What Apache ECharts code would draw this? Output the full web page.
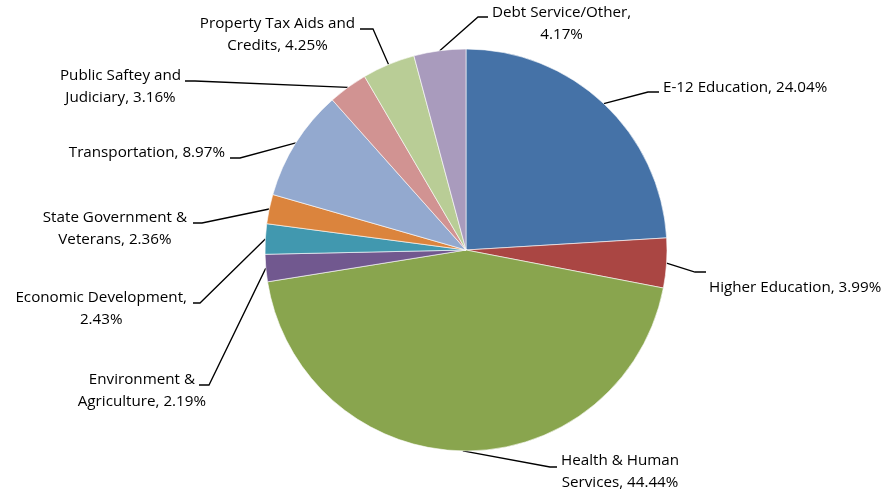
<!DOCTYPE html>
<html>
<head>
<meta charset="utf-8">
<script src="https://cdn.jsdelivr.net/npm/echarts@6/dist/echarts.min.js"></script>
<style>
html,body{margin:0;padding:0;background:#fff;}
#chart{width:886px;height:493px;}
</style>
</head>
<body>
<div id="chart"></div>
<script>
// ---- data ----
const categories = [
  "E-12 Education",
  "Higher Education",
  "Health & Human Services",
  "Environment & Agriculture",
  "Economic Development",
  "State Government & Veterans",
  "Transportation",
  "Public Saftey and Judiciary",
  "Property Tax Aids and Credits",
  "Debt Service/Other"
];
const values = [24.04, 3.99, 44.44, 2.19, 2.43, 2.36, 8.97, 3.16, 4.25, 4.17];
const labelNames = [
  "E-12 Education,",
  "Higher Education,",
  "Health & Human\nServices,",
  "Environment &\nAgriculture,",
  "Economic Development,\n",
  "State Government &\nVeterans,",
  "Transportation,",
  "Public Saftey and\nJudiciary,",
  "Property Tax Aids and\nCredits,",
  "Debt Service/Other,\n"
];
const colors = ["#4572A7","#AA4643","#89A54E","#71588F","#4198AF","#DB843D","#93A9CF","#D19392","#B9CD96","#A99BBD"];

// ---- label layout (pixel placement of labels / leader lines) ----
const labelPlacement = [
  {side:"R", ex:663, cy:88,  elbow:[648,92],  end:[659,92]},
  {side:"R", ex:709, cy:288, elbow:[695,272], end:[706,272]},
  {side:"R", ex:561, cy:472, elbow:[550,467], end:[557,467]},
  {side:"L", ex:206, cy:391, elbow:[209,385], end:[199,385]},
  {side:"L", ex:187, cy:309, elbow:[200,303], end:[193,303]},
  {side:"L", ex:187, cy:229, elbow:[202,223], end:[193,223]},
  {side:"L", ex:225, cy:153, elbow:[240,158], end:[230,158]},
  {side:"L", ex:181, cy:87,  elbow:[195,81],  end:[185,81]},
  {side:"L", ex:355, cy:35,  elbow:[373,29],  end:[360,29]},
  {side:"R", ex:492, cy:24,  elbow:[478,17],  end:[488,17]}
];

const chart = echarts.init(document.getElementById('chart'), null, {renderer:'canvas'});
const data = categories.map((c,i)=>({
  name:c, value:values[i],
  itemStyle:{color:colors[i]},
  label:{formatter: labelNames[i] + (labelNames[i].endsWith('\n') ? '' : ' ') + values[i].toFixed(2) + '%'}
}));

chart.setOption({
  animation:false,
  backgroundColor:'#fff',
  series:[{
    type:'pie',
    center:[466,250],
    radius:[0,201],
    startAngle:90,
    clockwise:true,
    data:data,
    itemStyle:{borderColor:'#ffffff', borderWidth:0.6},
    label:{
      show:true,
      color:'#000',
      fontFamily:'"Open Sans", sans-serif',
      fontSize:15.2,
      lineHeight:22,
      align:'center'
    },
    labelLine:{show:true, length:10, length2:10, lineStyle:{color:'#000', width:1.3}},
    labelLayout:function(params){
      const p = labelPlacement[params.dataIndex];
      const w = params.labelRect.width;
      const x = p.side === 'R' ? p.ex + w/2 : p.ex - w/2;
      const start = params.labelLinePoints ? params.labelLinePoints[0] : p.elbow;
      return {
        x:x, y:p.cy, align:'center', verticalAlign:'middle',
        labelLinePoints:[start, p.elbow, p.end]
      };
    }
  }]
});
</script>
</body>
</html>
